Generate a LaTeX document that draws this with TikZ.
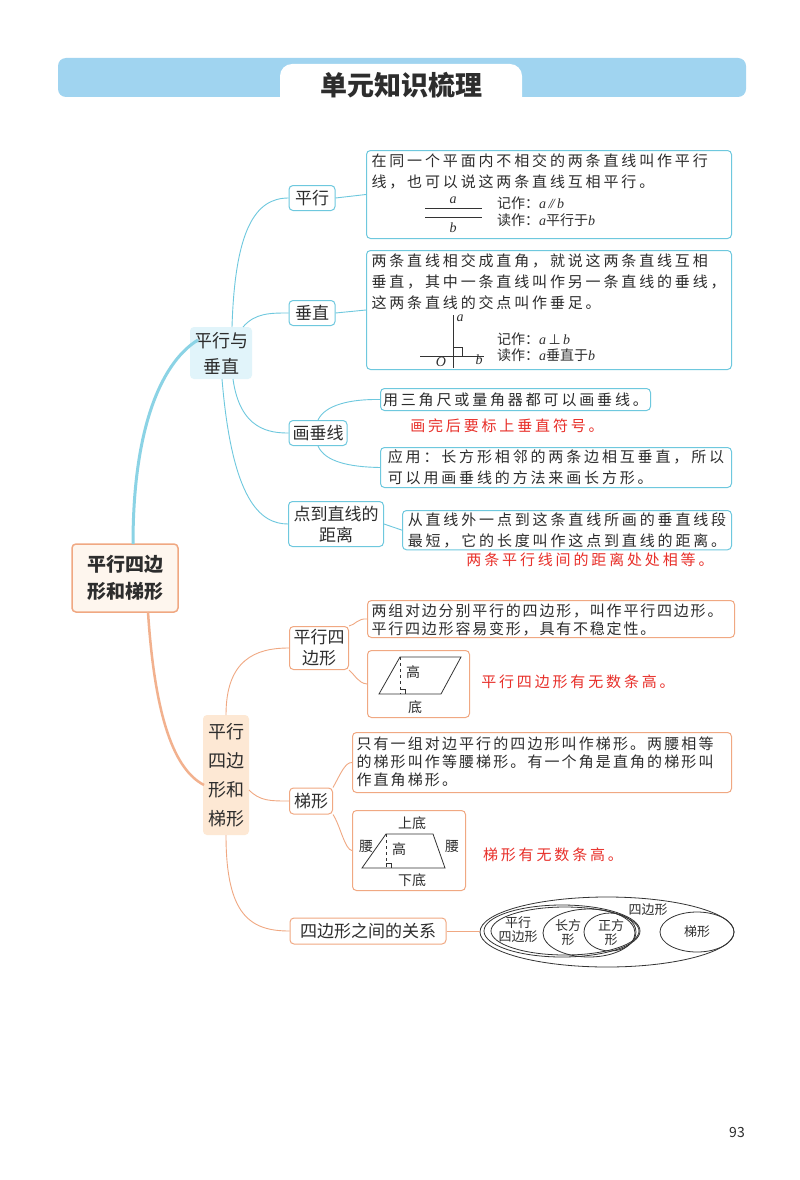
\documentclass[tikz,border=0pt]{standalone}
\usepackage{fontspec}
\setmainfont{Noto Sans CJK SC}
\newfontfamily\lat{Liberation Serif}
\newfontfamily\djv{DejaVu Sans}
\newcommand{\vi}[1]{{\lat\itshape #1}}
\begin{document}
\definecolor{bl}{RGB}{110,200,222}
\definecolor{blfill}{RGB}{225,244,250}
\definecolor{blbar}{RGB}{160,212,240}
\definecolor{or}{RGB}{240,168,130}
\definecolor{orfill}{RGB}{253,232,212}
\definecolor{rd}{RGB}{232,48,42}
\definecolor{tx}{RGB}{45,45,45}
\tikzset{
 bbox/.style={draw=bl,line width=1pt,rounded corners=4pt,fill=white,text=tx,inner sep=2pt},
 obox/.style={draw=or,line width=1pt,rounded corners=4pt,fill=white,text=tx,inner sep=2pt},
 desc/.style={font=\fontsize{15}{21}\selectfont\addfontfeature{LetterSpace=19},align=left,text=tx},
 odesc/.style={font=\fontsize{15}{18}\selectfont\addfontfeature{LetterSpace=12},align=left,text=tx},
 lbl/.style={font=\fontsize{17}{21}\selectfont,align=center,text=tx},
 red/.style={font=\fontsize{15}{17}\selectfont\addfontfeature{LetterSpace=19},text=rd},
 bc/.style={draw=bl,line width=0.9pt},
 oc/.style={draw=or,line width=0.9pt},
 fig/.style={draw=black!80,line width=0.8pt},
 small/.style={font=\fontsize{14}{16}\selectfont,text=tx,inner sep=0pt}
}
\begin{tikzpicture}[x=1pt,y=-1pt]
\useasboundingbox (0,0) rectangle (800,1180);
\fill[white] (0,0) rectangle (800,1180);
% title
\fill[blbar,rounded corners=8pt] (58,58) rectangle (746,97);
\fill[white,rounded corners=12pt] (280,64) rectangle (522,112);
\fill[white] (270,97) rectangle (532,112);
\node[font=\fontsize{27}{29}\selectfont\bfseries,text=tx] (title) at (401,85) {单元知识梳理};
% root
\node[draw=or,line width=1.5pt,rounded corners=4pt,fill=orfill!40,minimum width=106pt,minimum height=68pt,align=center,font=\fontsize{19}{27}\selectfont\bfseries,text=tx] (root) at (125,578) {平行四边\\形和梯形};
\node[fill=blfill,rounded corners=4pt,minimum width=62pt,minimum height=52pt,align=center,font=\fontsize{18}{26}\selectfont,text=tx] (pv) at (221,353) {平行与\\垂直};
\node[fill=orfill,rounded corners=4pt,minimum width=46pt,minimum height=120pt,align=center,font=\fontsize{18}{29}\selectfont,text=tx] (pt) at (226,775) {平行\\四边\\形和\\梯形};
\draw[draw=bl!80,line width=3pt] (133,544) .. controls (133,420) and (165,360) .. (198,340);
\draw[draw=or!90,line width=2.5pt] (148,612) .. controls (155,720) and (175,770) .. (204,785);
% blue level 3
\node[bbox,lbl,minimum width=46pt,minimum height=25pt] (px) at (312,198) {平行};
\node[bbox,lbl,minimum width=46pt,minimum height=25pt] (cz) at (312,313) {垂直};
\node[bbox,lbl,minimum width=58pt,minimum height=25pt] (hc) at (318,433) {画垂线};
\node[bbox,lbl,minimum width=95pt,minimum height=45pt] (dd) at (336,524) {点到直线的\\距离};
\draw[bc] (232,327) .. controls (235,230) and (255,198) .. (px.west);
\draw[bc] (243,327) .. controls (255,313) and (270,313) .. (cz.west);
\draw[bc] (233,379) .. controls (240,430) and (270,433) .. (hc.west);
\draw[bc] (222,379) .. controls (232,500) and (260,524) .. (dd.west);
% blue desc
\node[bbox,minimum width=365pt,minimum height=88pt,anchor=north west] (d1) at (366,150) {};
\node[desc,anchor=north west] (d1t) at (368,150) {在同一个平面内不相交的两条直线叫作平行\\线，也可以说这两条直线互相平行。};
\draw[fig] (425,208) -- (482,208);
\draw[fig] (425,217) -- (482,217);
\node[small] (la) at (453,200) {\vi{a}};
\node[small] (lb) at (453,228) {\vi{b}};
\node[small,anchor=west] (j1) at (497,203) {记作：\vi{a}\,{\lat\itshape /\kern-1.5pt/}\,\vi{b}};
\node[small,anchor=west] (r1) at (497,220) {读作：\vi{a}平行于\vi{b}};
\draw[bc] (px.east) -- (d1.west);
\node[bbox,minimum width=365pt,minimum height=119pt,anchor=north west] (d2) at (366,250) {};
\node[desc,anchor=north west] (d2t) at (368,250) {两条直线相交成直角，就说这两条直线互相\\垂直，其中一条直线叫作另一条直线的垂线，\\这两条直线的交点叫作垂足。};
\draw[fig] (453,315) -- (453,368);
\draw[fig] (420,356) -- (484,356);
\draw[fig] (453,347) -- (462,347) -- (462,356);
\node[small] (pa) at (460,318) {\vi{a}};
\node[small] (po) at (441,362) {\vi{O}};
\node[small] (pb) at (479,360) {\vi{b}};
\node[small,anchor=west] (j2) at (497,339) {记作：\vi{a}\,{\djv ⊥}\,\vi{b}};
\node[small,anchor=west] (r2) at (497,355) {读作：\vi{a}垂直于\vi{b}};
\draw[bc] (cz.east) -- (d2.west);
\node[bbox,desc,anchor=north west,minimum width=270pt,minimum height=22pt] (d3) at (380,388) {用三角尺或量角器都可以画垂线。};
\node[red] (r3) at (507,426) {画完后要标上垂直符号。};
\node[bbox,desc,anchor=north west,minimum width=351pt,minimum height=40pt] (d4) at (380,447) {应用：长方形相邻的两条边相互垂直，所以\\可以用画垂线的方法来画长方形。};
\draw[bc] (hc.north) .. controls (325,405) and (350,399) .. (d3.west);
\draw[bc] (hc.south) .. controls (325,462) and (350,467) .. (d4.west);
\node[bbox,desc,anchor=north west,minimum width=329pt,minimum height=35pt] (d5) at (402,510) {从直线外一点到这条直线所画的垂直线段\\最短，它的长度叫作这点到直线的距离。};
\draw[bc] (dd.east) -- (d5.west);
\node[red] (r5) at (590,560) {两条平行线间的距离处处相等。};
% orange level 3
\node[obox,lbl,minimum width=59pt,minimum height=43pt] (ps) at (319,648) {平行四\\边形};
\node[obox,lbl,minimum width=43pt,minimum height=26pt] (tx) at (311,801) {梯形};
\node[obox,lbl,minimum width=156pt,minimum height=26pt] (gx) at (368,931) {四边形之间的关系};
\draw[oc] (226,715) .. controls (226,660) and (255,648) .. (ps.west);
\draw[oc] (249,790) .. controls (260,801) and (270,801) .. (tx.west);
\draw[oc] (226,835) .. controls (226,915) and (250,931) .. (gx.west);
\node[obox,minimum width=367pt,minimum height=37pt,anchor=north west] (e1) at (367,600) {};
\node[odesc,anchor=north west] (e1t) at (368,600) {两组对边分别平行的四边形，叫作平行四边形。\\平行四边形容易变形，具有不稳定性。};
\node[obox,anchor=north west,minimum width=102pt,minimum height=67pt] (e2) at (367,650) {};
\draw[fig] (379,694) -- (441,694) -- (461,657) -- (400,657) -- cycle;
\draw[fig,dashed] (400,657) -- (400,694);
\draw[fig] (400,689) -- (405,689) -- (405,694);
\node[small] (g1) at (413,672) {高};
\node[small] (g2) at (415,707) {底};
\node[red] (r6) at (578,682) {平行四边形有无数条高。};
\draw[oc] (ps.north east) .. controls (355,625) and (358,618) .. (e1.west);
\draw[oc] (ps.south east) .. controls (355,675) and (358,683) .. (e2.west);
\node[obox,minimum width=379pt,minimum height=60pt,anchor=north west] (e3) at (352,732) {};
\node[odesc,anchor=north west,font=\fontsize{15}{18}\selectfont\addfontfeature{LetterSpace=14}] (e3t) at (353,733) {只有一组对边平行的四边形叫作梯形。两腰相等\\的梯形叫作等腰梯形。有一个角是直角的梯形叫\\作直角梯形。};
\node[obox,anchor=north west,minimum width=113pt,minimum height=80pt] (e4) at (352,810) {};
\draw[fig] (362,868) -- (445,868) -- (433,834) -- (386,834) -- cycle;
\draw[fig,dashed] (386,834) -- (386,868);
\draw[fig] (386,863) -- (391,863) -- (391,868);
\node[small] (t1) at (412,823) {上底};
\node[small] (t2) at (412,880) {下底};
\node[small] (t3) at (366,846) {腰};
\node[small] (t4) at (452,846) {腰};
\node[small] (t5) at (399,849) {高};
\node[red] (r7) at (553,855) {梯形有无数条高。};
\draw[oc] (tx.north east) .. controls (340,775) and (345,762) .. (e3.west);
\draw[oc] (tx.south east) .. controls (340,825) and (345,850) .. (e4.west);
% ellipses
\draw[fig] (607,932) ellipse [x radius=127pt,y radius=35pt];
\draw[fig] (562,931) ellipse [x radius=78pt,y radius=26pt];
\draw[fig] (565,931) ellipse [x radius=74pt,y radius=24pt];
\draw[fig] (589,933) ellipse [x radius=46pt,y radius=24pt];
\draw[fig] (610,932) ellipse [x radius=26pt,y radius=19pt];
\draw[fig] (697,932) ellipse [x radius=37pt,y radius=20pt];
\draw[oc] (gx.east) -- (480,931);
\node[small,align=center,font=\fontsize{13}{14}\selectfont] (q1) at (518,930) {平行\\四边形};
\node[small,align=center,font=\fontsize{13}{14}\selectfont] (q2) at (568,933) {长方\\形};
\node[small,align=center,font=\fontsize{13}{14}\selectfont] (q3) at (611,933) {正方\\形};
\node[small,font=\fontsize{13}{14}\selectfont] (q4) at (648,910) {四边形};
\node[small,font=\fontsize{13}{14}\selectfont] (q5) at (697,932) {梯形};
\node[font=\fontsize{14}{15}\selectfont,text=tx] (pg) at (737,1132) {93};
\end{tikzpicture}
\end{document}
